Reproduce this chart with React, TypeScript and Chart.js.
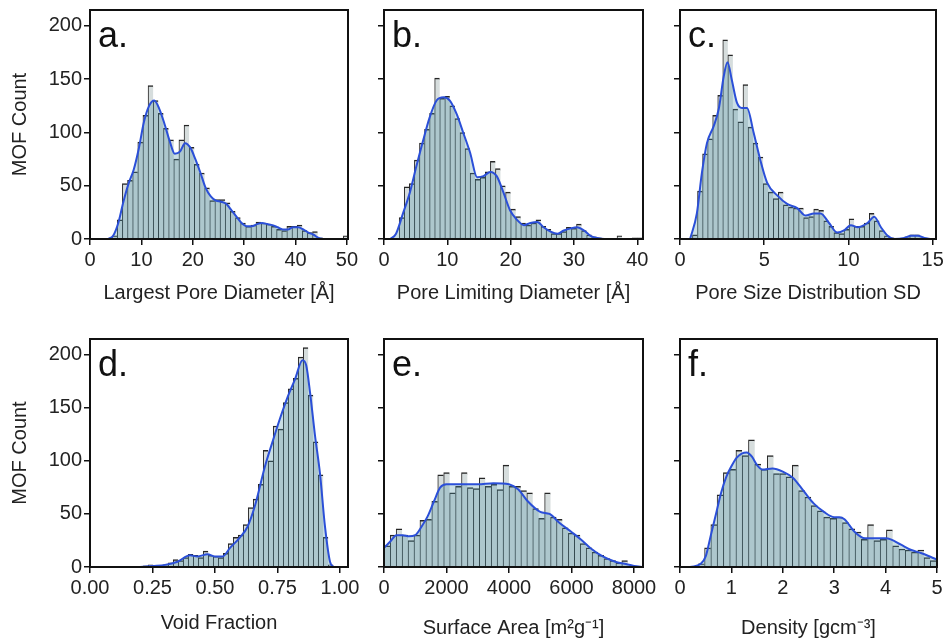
import { useEffect, useRef } from "react";
import { Chart, registerables } from "chart.js";

Chart.register(...registerables);

const FONT_FAMILY = "'Liberation Sans', Arial, Helvetica, sans-serif";

// ---------------- shared y axis ----------------
const countTicks = [0, 50, 100, 150, 200];
const countTickLabels = ["0", "50", "100", "150", "200"];
const countMax = 215;

// ---------------- a. Largest Pore Diameter ----------------
const lpdBinStart = 4.3;
const lpdBinWidth = 1.0;
const lpdCounts = [3, 18, 52, 55, 63, 91, 116, 144, 130, 118, 104, 93, 75, 93, 107, 86, 70, 62, 48, 36, 37, 37, 34, 26, 20, 15, 12, 13, 16, 15, 14, 12, 9, 8, 12, 12, 13, 8, 6, 7, 1, 0, 0, 0, 0, 3];
const lpdKdeX = [3.5, 4.5, 5.5, 6.5, 7.5, 8.5, 9.5, 10.5, 11.5, 12.5, 13.5, 14.5, 15.5, 16.5, 17.5, 18.5, 19.5, 20.5, 21.5, 22.5, 23.5, 24.5, 25.5, 26.5, 27.5, 28.5, 29.5, 30.5, 31.5, 32.5, 33.5, 34.5, 35.5, 36.5, 37.5, 38.5, 39.5, 40.5, 41.5, 42.5, 43.5, 44.5, 45.5];
const lpdKdeY = [0, 3, 15, 35, 52, 65, 85, 110, 125, 130, 122, 108, 92, 80, 82, 90, 86, 75, 62, 48, 40, 36, 35, 33, 27, 21, 15, 12, 12, 14, 15, 14, 13, 11, 9, 9, 11, 11, 9, 6, 4, 1, 0];
const lpdTicks = [0, 10, 20, 30, 40, 50];
const lpdTickLabels = ["0", "10", "20", "30", "40", "50"];

// ---------------- b. Pore Limiting Diameter ----------------
const pldBinStart = 2.4;
const pldBinWidth = 0.8;
const pldCounts = [20, 49, 52, 74, 90, 103, 118, 151, 132, 134, 125, 113, 100, 85, 62, 56, 58, 63, 73, 66, 50, 44, 28, 21, 15, 13, 15, 18, 12, 9, 5, 5, 7, 11, 10, 14, 8, 4, 2, 1, 0, 0, 0, 3, 0, 0, 1, 1, 1];
const pldKdeX = [1.0, 1.9, 3.0, 4.1, 5.1, 6.2, 7.2, 8.3, 9.4, 10.4, 11.5, 12.5, 13.6, 14.7, 15.7, 16.8, 17.8, 18.9, 19.9, 21.0, 22.1, 23.1, 24.2, 25.2, 26.3, 27.4, 28.4, 29.5, 30.5, 31.6, 32.6, 33.7, 34.8, 41];
const pldKdeY = [0, 5, 24, 44, 68, 93, 114, 130, 133, 130, 117, 100, 81, 58, 59, 63, 59, 43, 27, 18, 13, 15, 16, 11, 7, 5, 8, 10, 11, 8, 3, 1, 0, 0];
const pldTicks = [0, 10, 20, 30, 40];
const pldTickLabels = ["0", "10", "20", "30", "40"];

// ---------------- c. Pore Size Distribution SD ----------------
const psdBinStart = 0.74;
const psdBinWidth = 0.3;
const psdCounts = [4, 45, 80, 94, 116, 135, 187, 173, 122, 110, 145, 105, 90, 77, 52, 44, 38, 44, 32, 30, 29, 29, 20, 21, 28, 27, 17, 12, 6, 5, 9, 19, 12, 12, 15, 24, 17, 8, 3, 1, 0, 0, 2, 4, 4, 1];
const psdKdeX = [0.6, 1.0, 1.3, 1.6, 2.0, 2.3, 2.6, 2.82, 3.08, 3.38, 3.68, 3.98, 4.37, 4.77, 5.17, 5.77, 6.36, 6.96, 7.46, 7.95, 8.35, 8.85, 9.34, 9.74, 10.14, 10.54, 11.13, 11.53, 11.93, 12.33, 12.72, 13.32, 13.72, 14.12, 14.51, 14.9];
const psdKdeY = [0, 24, 62, 90, 106, 122, 153, 166, 149, 128, 123, 123, 100, 74, 53, 41, 33, 29, 22, 24, 24, 15, 6, 8, 13, 11, 15, 21, 11, 3, 0, 1, 3, 3, 1, 0];
const psdTicks = [0, 5, 10, 15];
const psdTickLabels = ["0", "5", "10", "15"];

// ---------------- d. Void Fraction ----------------
const vfBinStart = 0.213;
const vfBinWidth = 0.02;
const vfCounts = [1, 2, 1, 1, 2, 4, 7, 6, 9, 12, 11, 9, 15, 11, 10, 9, 13, 22, 28, 30, 40, 56, 64, 78, 110, 100, 133, 130, 155, 168, 178, 198, 207, 162, 118, 87, 28, 2];
const vfKdeX = [0.2, 0.25, 0.3, 0.35, 0.4, 0.43, 0.47, 0.5, 0.53, 0.56, 0.6, 0.63, 0.66, 0.7, 0.73, 0.76, 0.79, 0.82, 0.85, 0.865, 0.88, 0.9, 0.92, 0.94, 0.96, 0.975];
const vfKdeY = [0, 1, 2, 5, 11, 10, 12, 10, 10, 18, 28, 38, 58, 95, 118, 140, 160, 177, 195, 190, 165, 124, 88, 38, 5, 0];
const vfTicks = [0, 0.25, 0.5, 0.75, 1.0];
const vfTickLabels = ["0.00", "0.25", "0.50", "0.75", "1.00"];

// ---------------- e. Surface Area ----------------
const saBinStart = 10;
const saBinWidth = 190;
const saCounts = [20, 30, 36, 30, 25, 30, 44, 45, 62, 87, 89, 70, 76, 89, 75, 74, 84, 76, 78, 73, 96, 76, 76, 72, 70, 55, 46, 70, 47, 45, 37, 32, 30, 22, 18, 14, 11, 8, 6, 4, 6];
const saKdeX = [0, 200, 400, 600, 800, 1000, 1200, 1400, 1600, 1800, 2000, 2500, 3000, 3500, 4000, 4300, 4600, 5000, 5300, 5600, 6000, 6300, 6600, 7000, 7400, 7700, 8000, 8300];
const saKdeY = [18, 24, 30, 30, 29, 30, 38, 48, 62, 75, 78, 78, 78, 79, 78, 73, 62, 52, 50, 42, 33, 26, 18, 10, 5, 3, 1, 0];
const saTicks = [0, 2000, 4000, 6000, 8000];
const saTickLabels = ["0", "2000", "4000", "6000", "8000"];

// ---------------- f. Density ----------------
const denBinStart = 0.356;
const denBinWidth = 0.122;
const denCounts = [3, 18, 40, 68, 89, 92, 110, 105, 120, 97, 92, 105, 88, 88, 85, 96, 72, 66, 58, 53, 47, 46, 47, 42, 36, 33, 26, 40, 25, 26, 35, 20, 17, 16, 14, 16, 9, 6];
const denKdeX = [0.2, 0.4, 0.5, 0.6, 0.7, 0.8, 0.9, 1.0, 1.1, 1.2, 1.3, 1.4, 1.5, 1.6, 1.8, 2.0, 2.2, 2.4, 2.6, 2.8, 3.0, 3.1, 3.2, 3.4, 3.6, 3.8, 4.0, 4.1, 4.3, 4.5, 4.7, 4.9, 5.0];
const denKdeY = [0, 3, 10, 30, 50, 70, 85, 95, 103, 107, 108, 104, 96, 92, 93, 90, 84, 72, 60, 52, 47, 47, 45, 33, 27, 27, 27, 26, 21, 16, 13, 9, 7];
const denTicks = [0, 1, 2, 3, 4, 5];
const denTickLabels = ["0", "1", "2", "3", "4", "5"];

// ---------------- panel layout ----------------
type PanelCfg = {
  letter: string;
  title: string;
  binStart: number;
  binWidth: number;
  counts: number[];
  kdeX: number[];
  kdeY: number[];
  ticks: number[];
  tickLabels: string[];
  xMax: number;
  plotLeft: number;
  plotTop: number;
  plotW: number;
  plotH: number;
  xAxisH: number;
  showY: boolean;
};

const panels: PanelCfg[] = [
  { letter: "a.", title: "Largest Pore Diameter [Å]", binStart: lpdBinStart, binWidth: lpdBinWidth, counts: lpdCounts, kdeX: lpdKdeX, kdeY: lpdKdeY, ticks: lpdTicks, tickLabels: lpdTickLabels, xMax: 50.2, plotLeft: 90, plotTop: 10, plotW: 258, plotH: 229, xAxisH: 66, showY: true },
  { letter: "b.", title: "Pore Limiting Diameter [Å]", binStart: pldBinStart, binWidth: pldBinWidth, counts: pldCounts, kdeX: pldKdeX, kdeY: pldKdeY, ticks: pldTicks, tickLabels: pldTickLabels, xMax: 40.9, plotLeft: 384, plotTop: 10, plotW: 259, plotH: 229, xAxisH: 66, showY: false },
  { letter: "c.", title: "Pore Size Distribution SD", binStart: psdBinStart, binWidth: psdBinWidth, counts: psdCounts, kdeX: psdKdeX, kdeY: psdKdeY, ticks: psdTicks, tickLabels: psdTickLabels, xMax: 15.2, plotLeft: 680, plotTop: 10, plotW: 256, plotH: 229, xAxisH: 66, showY: false },
  { letter: "d.", title: "Void Fraction", binStart: vfBinStart, binWidth: vfBinWidth, counts: vfCounts, kdeX: vfKdeX, kdeY: vfKdeY, ticks: vfTicks, tickLabels: vfTickLabels, xMax: 1.032, plotLeft: 90, plotTop: 339, plotW: 258, plotH: 228, xAxisH: 68, showY: true },
  { letter: "e.", title: "Surface Area [m²g⁻¹]", binStart: saBinStart, binWidth: saBinWidth, counts: saCounts, kdeX: saKdeX, kdeY: saKdeY, ticks: saTicks, tickLabels: saTickLabels, xMax: 8288, plotLeft: 384, plotTop: 339, plotW: 259, plotH: 228, xAxisH: 73, showY: false },
  { letter: "f.", title: "Density [gcm⁻³]", binStart: denBinStart, binWidth: denBinWidth, counts: denCounts, kdeX: denKdeX, kdeY: denKdeY, ticks: denTicks, tickLabels: denTickLabels, xMax: 5, plotLeft: 680, plotTop: 339, plotW: 257, plotH: 228, xAxisH: 73, showY: false },
];

const Y_AXIS_W = 82;
const PAD_LEFT = 8;
const PAD_TOP = 15;
const PAD_RIGHT = 25;
const TEXT_COLOR = "#222";

function HistPanel({ p }: { p: PanelCfg }) {
  const ref = useRef<HTMLCanvasElement>(null);
  const W = PAD_LEFT + Y_AXIS_W + p.plotW + PAD_RIGHT;
  const H = PAD_TOP + p.plotH + p.xAxisH;

  useEffect(() => {
    const canvas = ref.current;
    if (!canvas) return;
    const bars = p.counts.map((c, i) => ({ x: p.binStart + p.binWidth * (i + 0.5), y: c }));
    const kde = p.kdeX.map((x, i) => ({ x, y: p.kdeY[i] }));

    const framePlugin = {
      id: "frameAndLetter",
      afterDraw(chart: any) {
        const { ctx, chartArea } = chart;
        const { left, top, right, bottom } = chartArea;
        ctx.save();
        ctx.strokeStyle = "#111";
        ctx.lineWidth = 2;
        ctx.strokeRect(left, top, right - left, bottom - top);
        ctx.font = `36px ${FONT_FAMILY}`;
        ctx.fillStyle = "#111";
        ctx.textBaseline = "alphabetic";
        ctx.textAlign = "left";
        ctx.fillText(p.letter, left + 8, top + 37);
        ctx.restore();
      },
    };

    const grid = {
      display: true,
      drawOnChartArea: false,
      drawTicks: true,
      tickLength: 6,
      tickWidth: 1.5,
      tickColor: "#111",
      color: "#111",
      lineWidth: 1.5,
      offset: false,
    };
    const font = { family: FONT_FAMILY, size: 20 };

    const chart = new Chart(canvas, {
      type: "bar",
      data: {
        datasets: [
          {
            type: "line",
            data: kde,
            borderColor: "#2b4fd8",
            borderWidth: 2,
            pointRadius: 0,
            fill: "origin",
            backgroundColor: "rgba(80,150,170,0.30)",
            cubicInterpolationMode: "monotone",
            order: 0,
          } as any,
          {
            type: "bar",
            data: bars,
            backgroundColor: "#d6dddd",
            borderColor: "#262626",
            borderWidth: { top: 1.5, left: 1, right: 0, bottom: 0 },
            borderSkipped: false,
            barPercentage: 1,
            categoryPercentage: 1,
            order: 1,
          } as any,
        ],
      },
      options: {
        responsive: false,
        animation: false,
        events: [],
        layout: { padding: { left: PAD_LEFT, top: PAD_TOP, right: PAD_RIGHT, bottom: 0 } },
        plugins: { legend: { display: false }, tooltip: { enabled: false } },
        scales: {
          x: {
            type: "linear",
            min: 0,
            max: p.xMax,
            offset: false,
            grid,
            border: { display: false },
            afterBuildTicks: (s: any) => {
              s.ticks = p.ticks.map((v) => ({ value: v }));
            },
            ticks: {
              autoSkip: false,
              maxRotation: 0,
              minRotation: 0,
              padding: 3,
              color: TEXT_COLOR,
              font,
              callback: (_v: any, i: number) => p.tickLabels[i],
            },
            title: { display: true, text: p.title, color: TEXT_COLOR, font, padding: 0 },
            afterFit: (s: any) => {
              s.height = p.xAxisH;
            },
          },
          y: {
            type: "linear",
            min: 0,
            max: countMax,
            grid,
            border: { display: false },
            afterBuildTicks: (s: any) => {
              s.ticks = countTicks.map((v) => ({ value: v }));
            },
            ticks: {
              display: p.showY,
              padding: 2,
              color: TEXT_COLOR,
              font,
              callback: (_v: any, i: number) => countTickLabels[i],
            },
            title: { display: p.showY, text: "MOF Count", color: TEXT_COLOR, font, padding: 0 },
            afterFit: (s: any) => {
              s.width = Y_AXIS_W;
            },
          },
        },
      } as any,
      plugins: [framePlugin],
    });
    return () => chart.destroy();
  }, [p]);

  return (
    <canvas
      ref={ref}
      width={W}
      height={H}
      style={{
        position: "absolute",
        left: p.plotLeft - PAD_LEFT - Y_AXIS_W,
        top: p.plotTop - PAD_TOP,
        width: W,
        height: H,
      }}
    />
  );
}

export default function App() {
  return (
    <div
      style={{
        position: "absolute",
        left: 0,
        top: 0,
        width: 943,
        height: 639,
        overflow: "hidden",
        background: "#ffffff",
      }}
    >
      {panels.map((p) => (
        <HistPanel key={p.letter} p={p} />
      ))}
    </div>
  );
}
